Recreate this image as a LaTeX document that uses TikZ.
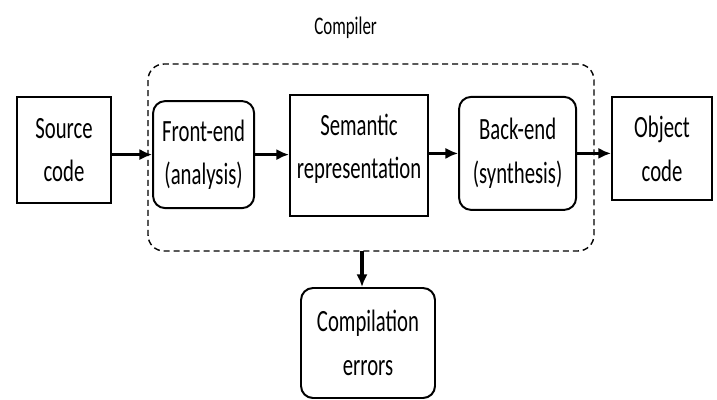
\documentclass[tikz,border=0pt]{standalone}
\usepackage{fontspec}
\setmainfont{Carlito}[FakeStretch=0.67]
\usetikzlibrary{shapes.geometric, arrows.meta, calc, positioning}
\tikzstyle{block} = [rectangle, align=center, draw=black, line width=1.4pt,
	inner sep=0pt, font=\fontsize{22}{31}\selectfont]
\tikzstyle{stage} = [block, rounded corners=0.3cm]
\tikzstyle{arrow} = [-{Latex[length=9pt, width=8pt]}, line width=2.4pt]
\tikzstyle{frame} = [rectangle, draw=black, line width=1pt,
	dash pattern=on 4.3pt off 2.8pt, rounded corners=0.4cm]

\begin{document}
\begin{tikzpicture}
	\useasboundingbox (0,0) rectangle (17.925,9.975);

	% set up compiler frame
	\node (compiler) [frame, minimum width=11.15cm, minimum height=4.675cm] at (9.275,6.0375) {};
	\node (title) [font=\fontsize{18}{22}\selectfont] at (8.64,9.275) {Compiler};

	% set up nodes
	\node (source) [block, minimum width=2.35cm, minimum height=2.65cm] at (1.6,6.225) {Source\\code};
	\node (front) [stage, minimum width=2.525cm, minimum height=2.675cm] at (5.09,6.11) {Front-end\\(analysis)};
	\node (semantic) [block, minimum width=3.45cm, minimum height=3.03cm] at (8.975,6.09) {Semantic\\representation\\[-18pt]};
	\node (back) [stage, minimum width=2.925cm, minimum height=2.825cm] at (12.94,6.14) {Back-end\\(synthesis)};
	\node (object) [block, minimum width=2.5cm, minimum height=2.575cm] at (16.55,6.26) {Object\\code};
	\node (errors) [stage, minimum width=3.35cm, minimum height=2.75cm] at (9.2,1.4) {Compilation\\errors};
	\coordinate (errout) at (9.05,3.7);

	% set up arrows between nodes
	\draw [arrow] (front.west -| source.east) -- (front.west);
	\draw [arrow] (front.east) -- (front.east -| semantic.west);
	\draw [arrow] (back.west -| semantic.east) -- (back.west);
	\draw [arrow] (back.east) -- (back.east -| object.west);
	\draw [arrow] (errout) -- (errout |- errors.north);

\end{tikzpicture}
\end{document}
